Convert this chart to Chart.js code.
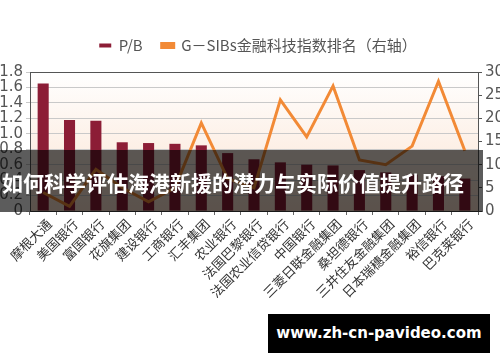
<!DOCTYPE html>
<html lang="zh">
  <head>
    <meta charset="UTF-8" />
    <title>P/B 与 G-SIBs 金融科技指数排名</title>
    <script src="https://cdn.jsdelivr.net/npm/chart.js"></script>
    <style>
      body {
        margin: 0;
        background: #ffffff;
        font-family: "Noto Sans CJK SC", sans-serif;
      }
      #wrap {
        position: relative;
        width: 500px;
        height: 362px;
        overflow: hidden;
      }
      #banner {
        position: absolute;
        left: 0;
        top: 150px;
        width: 483px;
        height: 62px;
        background: rgba(0, 0, 0, 0.64);
        color: #fff;
        font-weight: bold;
        font-size: 21px;
        line-height: 64px;
        padding-left: 2px;
        white-space: nowrap;
        box-sizing: border-box;
      }
      #mark {
        position: absolute;
        left: 268px;
        top: 314px;
        width: 222px;
        height: 39px;
        background: #000;
        color: #fff;
        font-family: "DejaVu Sans", sans-serif;
        font-weight: bold;
        font-size: 15px;
        line-height: 39px;
        text-align: center;
      }
    </style>
  </head>
  <body>
    <div id="wrap">
      <canvas id="myChart" width="500" height="362"></canvas>
      <div id="banner">如何科学评估海港新援的潜力与实际价值提升路径</div>
      <div id="mark">www.zh-cn-pavideo.com</div>
    </div>

    <script>
      const banks = [
        "摩根大通", "美国银行", "富国银行", "花旗集团", "建设银行", "工商银行",
        "汇丰集团", "农业银行", "法国巴黎银行", "法国农业信贷银行", "中国银行",
        "三菱日联金融集团", "桑坦德银行", "三井住友金融集团", "日本瑞穗金融集团",
        "裕信银行", "巴克莱银行"
      ];
      const pb = [1.65, 1.18, 1.17, 0.89, 0.88, 0.87, 0.85, 0.75, 0.67, 0.63, 0.6, 0.59, 0.53, 0.5, 0.47, 0.45, 0.42];
      const fintechRank = [4, 1, 9, 5, 2, 5, 19, 7, 5, 24, 16, 27, 11, 10, 14, 28, 13];
      const leftTicks = [0, 0.2, 0.4, 0.6, 0.8, 1.0, 1.2, 1.4, 1.6, 1.8];
      const rightTicks = [0, 5, 10, 15, 20, 25, 30];

      // 绘图区渐变背景 + 顶部边框，图例略向右移
      const bgPlugin = {
        id: "bg",
        afterLayout(chart) {
          chart.legend.left += 8;
          chart.legend.right += 8;
        },
        beforeDraw(chart) {
          const { ctx, chartArea: a } = chart;
          const g = ctx.createLinearGradient(0, a.top, 0, a.bottom);
          g.addColorStop(0, "#ffffff");
          g.addColorStop(1, "#fbe3d1");
          ctx.save();
          ctx.fillStyle = g;
          ctx.fillRect(a.left, a.top, a.right - a.left, a.bottom - a.top);
          ctx.restore();
        },
        afterDraw(chart) {
          const { ctx, chartArea: a } = chart;
          ctx.save();
          ctx.strokeStyle = "#555";
          ctx.lineWidth = 1;
          ctx.beginPath();
          ctx.moveTo(a.left, a.top + 0.5);
          ctx.lineTo(a.right, a.top + 0.5);
          ctx.stroke();
          ctx.restore();
        },
      };

      const ctx = document.getElementById("myChart");
      new Chart(ctx, {
        type: "bar",
        data: {
          labels: banks,
          datasets: [
            {
              type: "bar",
              label: "P/B",
              data: pb,
              backgroundColor: "#8c1d36",
              borderWidth: 0,
              barPercentage: 0.42,
              categoryPercentage: 1,
              yAxisID: "y",
              order: 1,
            },
            {
              type: "line",
              label: "G－SIBs金融科技指数排名（右轴）",
              data: fintechRank,
              borderColor: "#f28a36",
              backgroundColor: "#f28a36",
              borderWidth: 3,
              pointRadius: 0,
              tension: 0,
              yAxisID: "y1",
              order: 0,
            },
          ],
        },
        plugins: [bgPlugin],
        options: {
          responsive: false,
          animation: false,
          layout: { padding: { top: 19, left: 0, right: 0, bottom: 0 } },
          plugins: {
            tooltip: { enabled: false },
            // 空标题仅作图例与绘图区之间的间隔
            title: {
              display: true,
              text: "",
              weight: 500,
              padding: { top: 2, bottom: 2 },
              font: { size: 5, lineHeight: 1 },
            },
            legend: {
              position: "top",
              labels: {
                boxWidth: 12,
                boxHeight: 4,
                padding: 19,
                color: "#555",
                font: { family: "Noto Sans CJK SC", size: 15 },
                sort: (a, b) => a.datasetIndex - b.datasetIndex,
              },
            },
          },
          scales: {
            x: {
              offset: true,
              grid: {
                offset: true,
                drawOnChartArea: false,
                color: "#666",
                tickLength: 4,
              },
              border: { color: "#444" },
              ticks: {
                maxRotation: 45,
                minRotation: 45,
                autoSkip: false,
                color: "#333",
                padding: 1,
                labelOffset: 6,
                font: { family: "Noto Sans CJK SC", size: 13 },
              },
              afterFit(scale) {
                scale.height = 151;
              },
            },
            y: {
              position: "left",
              min: 0,
              max: 1.8,
              afterBuildTicks(scale) {
                scale.ticks = leftTicks.map((v) => ({ value: v }));
              },
              ticks: {
                autoSkip: false,
                color: "#555",
                padding: 3,
                font: { family: "DejaVu Sans", size: 15 },
                callback: (v) => (v === 0 ? "0" : v.toFixed(1)),
              },
              grid: { color: "#c9c9c9", tickLength: 4 },
              border: { color: "#555" },
              afterFit(scale) {
                scale.width = 30;
              },
            },
            y1: {
              position: "right",
              min: 0,
              max: 30,
              afterBuildTicks(scale) {
                scale.ticks = rightTicks.map((v) => ({ value: v }));
              },
              ticks: {
                autoSkip: false,
                color: "#555",
                padding: 3,
                font: { family: "DejaVu Sans", size: 15 },
              },
              grid: { drawOnChartArea: false, color: "#555", tickLength: 4 },
              border: { color: "#555" },
              afterFit(scale) {
                scale.width = 22;
              },
            },
          },
        },
      });
    </script>
  </body>
</html>
